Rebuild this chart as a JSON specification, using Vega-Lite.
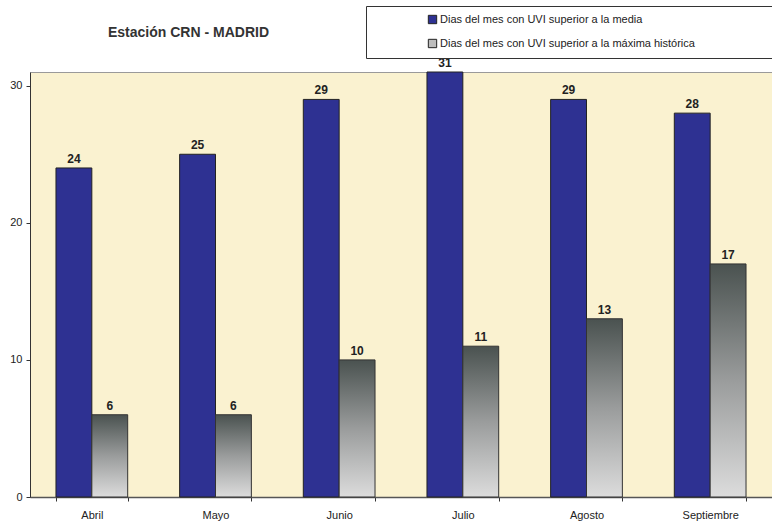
{
  "$schema": "https://vega.github.io/schema/vega-lite/v6.json",
  "width": 742,
  "height": 425,
  "autosize": {"type": "none"},
  "padding": {"left": 30, "top": 72, "right": 0, "bottom": 26},
  "background": "white",
  "config": {
    "font": "Liberation Sans",
    "view": {"fill": "#FAF2D0", "stroke": "#9A9A9A", "strokeWidth": 1}
  },
  "title": {
    "text": "Estación CRN - MADRID",
    "anchor": "start",
    "frame": "group",
    "dx": 78,
    "offset": -34,
    "fontSize": 14,
    "fontWeight": "bold",
    "color": "#333333"
  },
  "data": {
    "values": [
      {"mes": "Abril", "serie": "Dias del mes con UVI superior a la media", "dias": 24},
      {"mes": "Abril", "serie": "Dias del mes con UVI superior a la máxima histórica", "dias": 6},
      {"mes": "Mayo", "serie": "Dias del mes con UVI superior a la media", "dias": 25},
      {"mes": "Mayo", "serie": "Dias del mes con UVI superior a la máxima histórica", "dias": 6},
      {"mes": "Junio", "serie": "Dias del mes con UVI superior a la media", "dias": 29},
      {"mes": "Junio", "serie": "Dias del mes con UVI superior a la máxima histórica", "dias": 10},
      {"mes": "Julio", "serie": "Dias del mes con UVI superior a la media", "dias": 31},
      {"mes": "Julio", "serie": "Dias del mes con UVI superior a la máxima histórica", "dias": 11},
      {"mes": "Agosto", "serie": "Dias del mes con UVI superior a la media", "dias": 29},
      {"mes": "Agosto", "serie": "Dias del mes con UVI superior a la máxima histórica", "dias": 13},
      {"mes": "Septiembre", "serie": "Dias del mes con UVI superior a la media", "dias": 28},
      {"mes": "Septiembre", "serie": "Dias del mes con UVI superior a la máxima histórica", "dias": 17}
    ]
  },
  "encoding": {
    "x": {
      "field": "mes",
      "type": "nominal",
      "sort": ["Abril", "Mayo", "Junio", "Julio", "Agosto", "Septiembre"],
      "scale": {"paddingInner": 0.42, "paddingOuter": 0.21},
      "axis": {
        "title": null,
        "labelAngle": 0,
        "tickBand": "extent",
        "tickSize": 4,
        "tickColor": "#333333",
        "domainColor": "#555555",
        "domainWidth": 1.5,
        "labelFontSize": 11,
        "labelColor": "#222222",
        "labelPadding": 8
      }
    },
    "xOffset": {
      "field": "serie",
      "type": "nominal",
      "sort": ["Dias del mes con UVI superior a la media", "Dias del mes con UVI superior a la máxima histórica"],
      "scale": {"paddingInner": 0, "paddingOuter": 0}
    },
    "y": {
      "field": "dias",
      "type": "quantitative",
      "scale": {"domain": [0, 31], "nice": false},
      "axis": {
        "title": null,
        "values": [0, 10, 20, 30],
        "grid": false,
        "tickSize": 4,
        "tickColor": "#333333",
        "domainColor": "#333333",
        "labelFontSize": 11,
        "labelColor": "#222222",
        "labelPadding": 4
      }
    }
  },
  "layer": [
    {
      "transform": [{"filter": "datum.serie === 'Dias del mes con UVI superior a la media'"}],
      "mark": {"type": "bar", "stroke": "#222222", "strokeWidth": 1},
      "encoding": {
        "color": {
          "field": "serie",
          "type": "nominal",
          "scale": {
            "domain": ["Dias del mes con UVI superior a la media", "Dias del mes con UVI superior a la máxima histórica"],
            "range": ["#2E3192", "#BDBDBD"]
          },
          "legend": {
            "title": "\u00a0",
            "titleOrient": "right",
            "titlePadding": 80,
            "titleFontSize": 11,
            "titleColor": "white",
            "orient": "none",
            "legendX": 336,
            "legendY": -66,
            "fillColor": "white",
            "strokeColor": "#333333",
            "padding": 8,
            "symbolOffset": 53,
            "symbolType": "square",
            "symbolSize": 70,
            "symbolStrokeColor": "#222222",
            "symbolStrokeWidth": 1,
            "labelFontSize": 11,
            "labelColor": "#222222",
            "labelOffset": 2,
            "labelLimit": 400,
            "rowPadding": 11
          }
        }
      }
    },
    {
      "transform": [{"filter": "datum.serie === 'Dias del mes con UVI superior a la máxima histórica'"}],
      "mark": {
        "type": "bar",
        "stroke": "#333333",
        "strokeWidth": 1,
        "fill": {
          "gradient": "linear",
          "x1": 0, "y1": 0, "x2": 0, "y2": 1,
          "stops": [
            {"offset": 0, "color": "#4A5250"},
            {"offset": 0.5, "color": "#9A9C9C"},
            {"offset": 1, "color": "#DCDCDC"}
          ]
        }
      }
    },
    {
      "mark": {"type": "text", "baseline": "alphabetic", "dy": -5, "fontSize": 12, "fontWeight": "bold", "color": "#222222"},
      "encoding": {"text": {"field": "dias", "type": "quantitative"}}
    }
  ]
}
